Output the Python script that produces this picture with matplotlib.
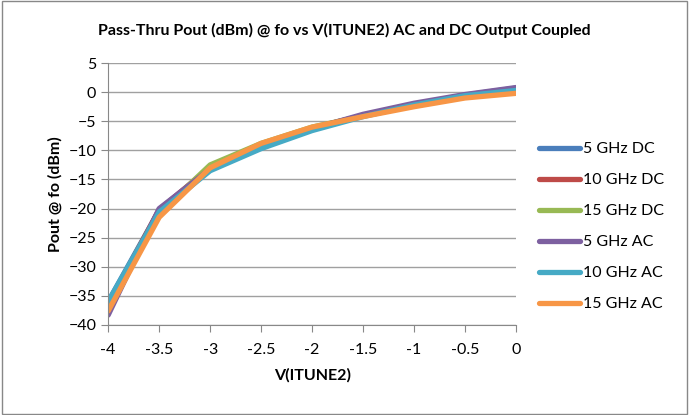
import matplotlib
matplotlib.use("Agg")
import matplotlib.pyplot as plt
from matplotlib.patches import Rectangle

plt.rcParams['font.family'] = ['Lato', 'DejaVu Sans']

# V(ITUNE2) sweep
vtune = [-4, -3.5, -3, -2.5, -2, -1.5, -1, -0.5, 0]

# Pout @ fo (dBm)
dc_5 = [-36.0, -20.3, -13.0, -9.0, -6.2, -4.0, -2.1, -0.5, 0.7]
dc_10 = [-36.5, -20.2, -12.9, -9.0, -6.2, -4.0, -2.2, -0.6, 0.5]
dc_15 = [-37.0, -20.8, -12.5, -8.8, -6.0, -4.1, -2.3, -0.8, 0.2]
ac_5 = [-38.3, -20.0, -13.2, -9.2, -6.3, -3.8, -1.9, -0.4, 0.8]
ac_10 = [-36.0, -20.6, -13.5, -9.7, -6.6, -4.2, -2.2, -0.6, 0.3]
ac_15 = [-37.6, -21.5, -13.0, -8.8, -6.0, -4.2, -2.5, -1.0, -0.2]

labels = ["5 GHz DC", "10 GHz DC", "15 GHz DC", "5 GHz AC", "10 GHz AC", "15 GHz AC"]
colors = ["#4a7ebb", "#be4b48", "#98b954", "#7d60a0", "#46aac5", "#f79646"]
series = [dc_5, dc_10, dc_15, ac_5, ac_10, ac_15]

fig = plt.figure(figsize=(6.89, 4.15), dpi=100)
ax = fig.add_axes([0.157, 0.217, 0.592, 0.631])

for ys, lab, c in zip(series, labels, colors):
    ax.plot(vtune, ys, color=c, linewidth=3.8, label=lab, solid_capstyle='round')

ax.set_xlim(-4, 0)
ax.set_ylim(-40, 5)
ax.set_xticks([-4, -3.5, -3, -2.5, -2, -1.5, -1, -0.5, 0])
ax.set_xticklabels(["-4", "-3.5", "-3", "-2.5", "-2", "-1.5", "-1", "-0.5", "0"])
ax.set_yticks(range(-40, 6, 5))
ax.grid(axis='y', color='#a0a0a0', linewidth=1)
ax.set_axisbelow(True)
for s in ['top', 'right']:
    ax.spines[s].set_visible(False)
for s in ['left', 'bottom']:
    ax.spines[s].set_color('#888888')
ax.tick_params(axis='both', labelsize=11.5, color='#888888', length=5, direction='out')
ax.tick_params(axis='x', pad=8)

ax.set_xlabel("V(ITUNE2)", fontsize=11.5, fontweight='bold', labelpad=8)
ax.set_ylabel("Pout @ fo (dBm)", fontsize=11.5, fontweight='bold')
fig.suptitle("Pass-Thru Pout (dBm) @ fo vs V(ITUNE2) AC and DC Output Coupled",
             fontsize=11.5, fontweight='bold', x=0.5, y=0.945)

ax.legend(loc='center left', bbox_to_anchor=(1.02, 0.375), frameon=False,
          fontsize=11.5, handlelength=2.6, handletextpad=0.2, labelspacing=1.05)

fig.patches.append(Rectangle((0.003, 0.003), 0.994, 0.994, transform=fig.transFigure,
                             fill=False, edgecolor='#888888', linewidth=1))

fig.savefig("out.png", dpi=100)
